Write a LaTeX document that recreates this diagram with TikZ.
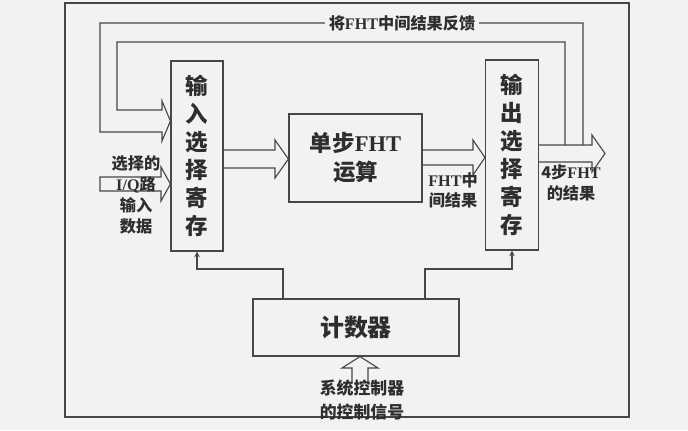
\documentclass[tikz,border=0pt]{standalone}
\usepackage{fontspec}
\setmainfont{Liberation Serif}
\newfontfamily\cjk{Noto Sans CJK SC}

\colorlet{linegray}{black!72}
\colorlet{textgray}{black!82}
\colorlet{bggray}{black!5}

\begin{document}
\begin{tikzpicture}[x=0.025cm, y=-0.025cm, >=stealth,
    box/.style={draw=linegray, line width=0.8pt, inner sep=0pt},
    band/.style={draw=linegray, line width=0.8pt, line join=miter},
    ctl/.style={draw=linegray, line width=0.8pt, ->},
    boxtext/.style={text=textgray, font=\cjk\bfseries\fontsize{16}{19.9}\selectfont, align=center},
    lbl/.style={text=textgray, font=\cjk\bfseries\fontsize{11.5}{14.9}\selectfont, align=center}]

        % Background and outer frame
        \fill[bggray] (0,0) rectangle (688,430);
        \draw[linegray, line width=0.8pt] (65,3) rectangle (629,417);

        % Register and processing blocks
        \node[box, boxtext, minimum width=1.3cm, minimum height=4.75cm] (inreg) at (197,156) {输\\入\\选\\择\\寄\\存};
        \node[box, boxtext, minimum width=1.325cm, minimum height=4.75cm] (outreg) at (512,155) {输\\出\\选\\择\\寄\\存};
        \node[box, boxtext, font=\cjk\bfseries\fontsize{16}{20.6}\selectfont, minimum width=3.325cm, minimum height=2.2cm] (fht) at (355.5,158) {单步\textrm{FHT}\\运算};
        \node[box, boxtext, font=\cjk\bfseries\fontsize{17}{20}\selectfont, minimum width=5.15cm, minimum height=1.425cm] (counter) at (356,327.5) {计数器};

        % Input data arrow (closed tail)
        \draw[band] (100,177) -- (161,177) -- (161,167) -- (inreg.west |- 0,184) -- (161,201) -- (161,191) -- (100,191) -- cycle;

        % Feedback band from the output back to the input register
        \draw[band] (583,145) -- (583,23) -- (100,23) -- (100,132) -- (162,132) -- (162,141) -- (inreg.west |- 0,121)
            -- (162,101) -- (162,110) -- (117,110) -- (117,42) -- (565,42) -- (565,145);

        % Input register to single step FHT
        \draw[band] (inreg.east |- 0,150) -- (275,150) -- (275,140) -- (fht.west |- 0,159) -- (275,178) -- (275,168) -- (inreg.east |- 0,168);

        % Single step FHT to output register
        \draw[band] (fht.east |- 0,150) -- (473,150) -- (473,140) -- (outreg.west |- 0,157.5) -- (473,175) -- (473,165) -- (fht.east |- 0,165);

        % Output arrow
        \coordinate (result) at (605,153.5);
        \draw[band] (outreg.east |- 0,145) -- (592,145) -- (592,135) -- (result) -- (592,172) -- (592,162) -- (outreg.east |- 0,162);

        % Control signal into the counter
        \draw[band] (352,382) -- (352,368) -- (342,368) -- (360,0 |- counter.south) -- (378,368) -- (368,368) -- (368,382);

        % Counter drives both registers
        \draw[ctl] (283,0 |- counter.north) -- (283,269) -- (inreg.south |- 0,269) -- (inreg.south);
        \draw[ctl] (425,0 |- counter.north) -- (425,269) -- (outreg.south |- 0,269) -- (outreg.south);

        % Labels
        \node[lbl, fill=bggray, inner xsep=3pt, inner ysep=1pt] (fbtext) at (402,23) {将\textrm{FHT}中间结果反馈};
        \node[lbl] (intext) at (136,195) {选择的\\\textrm{I/Q}路\\输入\\数据};
        \node[lbl, font=\cjk\bfseries\fontsize{11.5}{14.2}\selectfont] (midtext) at (453,190) {\textrm{FHT}中\\间结果};
        \node[lbl] (outtext) at (571,182.5) {4步\textrm{FHT}\\的结果};
        \node[lbl, font=\cjk\bfseries\fontsize{12}{17}\selectfont] (ctltext) at (362,400) {系统控制器\\的控制信号};

\end{tikzpicture}
\end{document}
